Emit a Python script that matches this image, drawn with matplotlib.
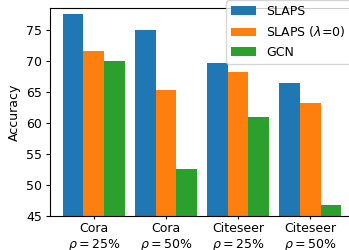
import matplotlib
matplotlib.use("Agg")
import matplotlib.pyplot as plt
import numpy as np

# Node classification accuracy under different label rates
groups = ["Cora\n$\\rho=25\\%$", "Cora\n$\\rho=50\\%$",
          "Citeseer\n$\\rho=25\\%$", "Citeseer\n$\\rho=50\\%$"]
slaps = [77.6, 74.9, 69.7, 66.4]
slaps_no_lambda = [71.6, 65.3, 68.1, 63.2]
gcn = [69.9, 52.5, 61.0, 46.7]

series = [
    ("SLAPS", slaps, "#1f77b4"),
    ("SLAPS ($\\lambda$=0)", slaps_no_lambda, "#ff7f0e"),
    ("GCN", gcn, "#2ca02c"),
]

fig = plt.figure(figsize=(3.49, 2.5), dpi=100)
# axes run slightly past the right edge, as in the cropped original
ax = fig.add_axes([50 / 349, 34.3 / 250, 304 / 349, 207.7 / 250])

x = np.arange(len(groups))
width = 0.29
for i, (label, vals, color) in enumerate(series):
    ax.bar(x + (i - 1) * width, vals, width, label=label, color=color)

ax.set_xticks(x)
ax.set_xticklabels(groups, fontsize=9)
ax.set_xlim(-0.61, 3.61)
ax.set_ylim(45, 78.5)
ax.set_yticks([45, 50, 55, 60, 65, 70, 75])
ax.tick_params(axis="y", labelsize=9, length=3, pad=2.5)
ax.tick_params(axis="x", length=2.5, pad=2)
ax.set_ylabel("Accuracy", fontsize=9)

fig.legend(loc="upper left", bbox_to_anchor=(226 / 349, 1.0),
           borderaxespad=0, fontsize=9, framealpha=0.8)

fig.savefig("out.png", dpi=100)
